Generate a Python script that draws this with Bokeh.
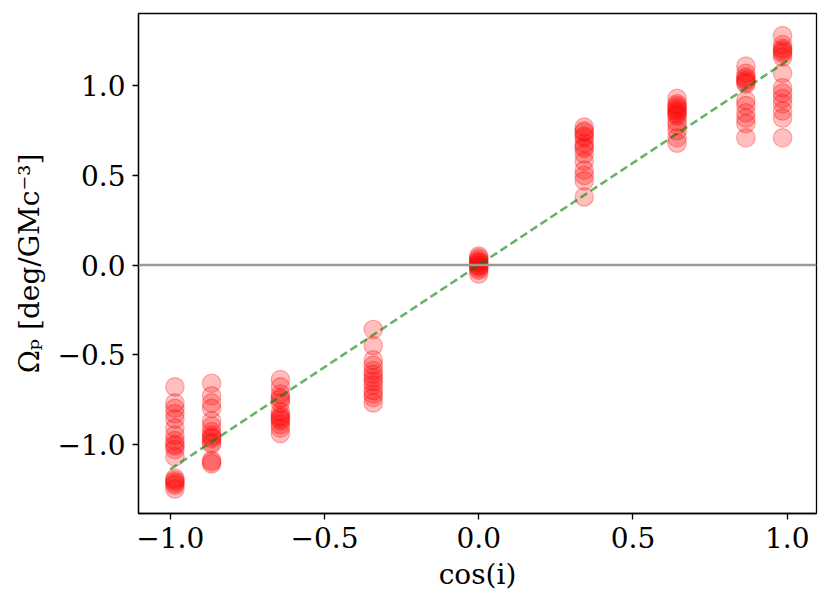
from bokeh.plotting import figure
from bokeh.models import Span, FixedTicker, CustomJSTickFormatter, Range1d
from bokeh.embed import file_html
from bokeh.resources import INLINE

# ---- data ----
cos_i = [-0.985, -0.866, -0.643, -0.342, 0.0, 0.342, 0.643, 0.866, 0.985]

omega_m10 = [-0.68, -0.77, -0.80, -0.83, -0.86, -0.91, -0.95, -0.98, -1.00, -1.01, -1.03,
             -1.07, -1.19, -1.20, -1.21, -1.22, -1.23, -1.25]
omega_m09 = [-0.66, -0.73, -0.77, -0.80, -0.87, -0.90, -0.93, -0.95, -0.96, -0.97, -0.99,
             -1.00, -1.09, -1.10, -1.11]
omega_m06 = [-0.64, -0.68, -0.72, -0.74, -0.75, -0.77, -0.82, -0.84, -0.85, -0.86, -0.87,
             -0.89, -0.91, -0.94]
omega_m03 = [-0.36, -0.45, -0.53, -0.56, -0.59, -0.61, -0.63, -0.65, -0.67, -0.70, -0.72,
             -0.74, -0.77]
omega_p00 = [0.05, 0.04, 0.03, 0.02, 0.015, 0.01, 0.0, -0.005, -0.01, -0.02, -0.03, -0.05]
omega_p03 = [0.77, 0.75, 0.74, 0.72, 0.71, 0.68, 0.66, 0.65, 0.62, 0.58, 0.53, 0.50, 0.47, 0.38]
omega_p06 = [0.93, 0.90, 0.89, 0.88, 0.87, 0.86, 0.85, 0.84, 0.83, 0.80, 0.78, 0.75, 0.71, 0.68]
omega_p09 = [1.11, 1.07, 1.05, 1.04, 1.03, 1.02, 1.01, 0.92, 0.89, 0.85, 0.82, 0.79, 0.71]
omega_p10 = [1.28, 1.23, 1.21, 1.20, 1.19, 1.18, 1.16, 1.07, 0.99, 0.96, 0.93, 0.90, 0.86,
             0.82, 0.71]

omega_cols = [omega_m10, omega_m09, omega_m06, omega_m03, omega_p00,
              omega_p03, omega_p06, omega_p09, omega_p10]

fit_x = [-1.0, 1.0]
fit_y = [-1.14, 1.14]

x_ticks = [-1.0, -0.5, 0.0, 0.5, 1.0]
y_ticks = [-1.0, -0.5, 0.0, 0.5, 1.0]

xs, ys = [], []
for c, col in zip(cos_i, omega_cols):
    for v in col:
        xs.append(c)
        ys.append(v)

FONT = "DejaVu Serif"

p = figure(width=822, height=594, output_backend="svg", toolbar_location=None,
           x_range=Range1d(-1.103, 1.095), y_range=Range1d(-1.387, 1.404),
           min_border_left=138, min_border_right=6, min_border_top=13,
           min_border_bottom=81)

p.grid.visible = False
p.outline_line_color = "black"
p.outline_line_width = 1.3
p.background_fill_color = "white"
p.border_fill_color = "white"

p.add_layout(Span(location=0, dimension="width", line_color="#999999", line_width=2.6))

p.scatter(xs, ys, size=18.5, marker="circle", fill_color="red", fill_alpha=0.25,
          line_color="red", line_alpha=0.3, line_width=1.2)

p.line(fit_x, fit_y, line_color="#008000", line_alpha=0.6, line_width=2.6, line_dash="8 4")

fmt = CustomJSTickFormatter(code="return tick.toFixed(1).replace('-', '\u2212');")
for ax, ticks in ((p.xaxis[0], x_ticks), (p.yaxis[0], y_ticks)):
    ax.ticker = FixedTicker(ticks=ticks)
    ax.formatter = fmt
    ax.minor_tick_line_color = None
    ax.major_tick_in = 0
    ax.major_tick_out = 6
    ax.major_tick_line_width = 1.3
    ax.axis_line_width = 1.3
    ax.major_label_text_font = FONT
    ax.major_label_text_font_size = "28px"
    ax.major_label_text_color = "black"
    ax.axis_label_text_font = FONT
    ax.axis_label_text_font_size = "28px"
    ax.axis_label_text_font_style = "normal"
    ax.axis_label_text_color = "black"
    ax.major_label_standoff = 7

p.xaxis.axis_label = "cos(i)"
p.xaxis.axis_label_standoff = 7
p.yaxis.axis_label = "\u03a9\u209a [deg/GMc\u207b\u00b3]"
p.yaxis.axis_label_standoff = 9

open("out.html", "w").write(file_html(p, INLINE))
